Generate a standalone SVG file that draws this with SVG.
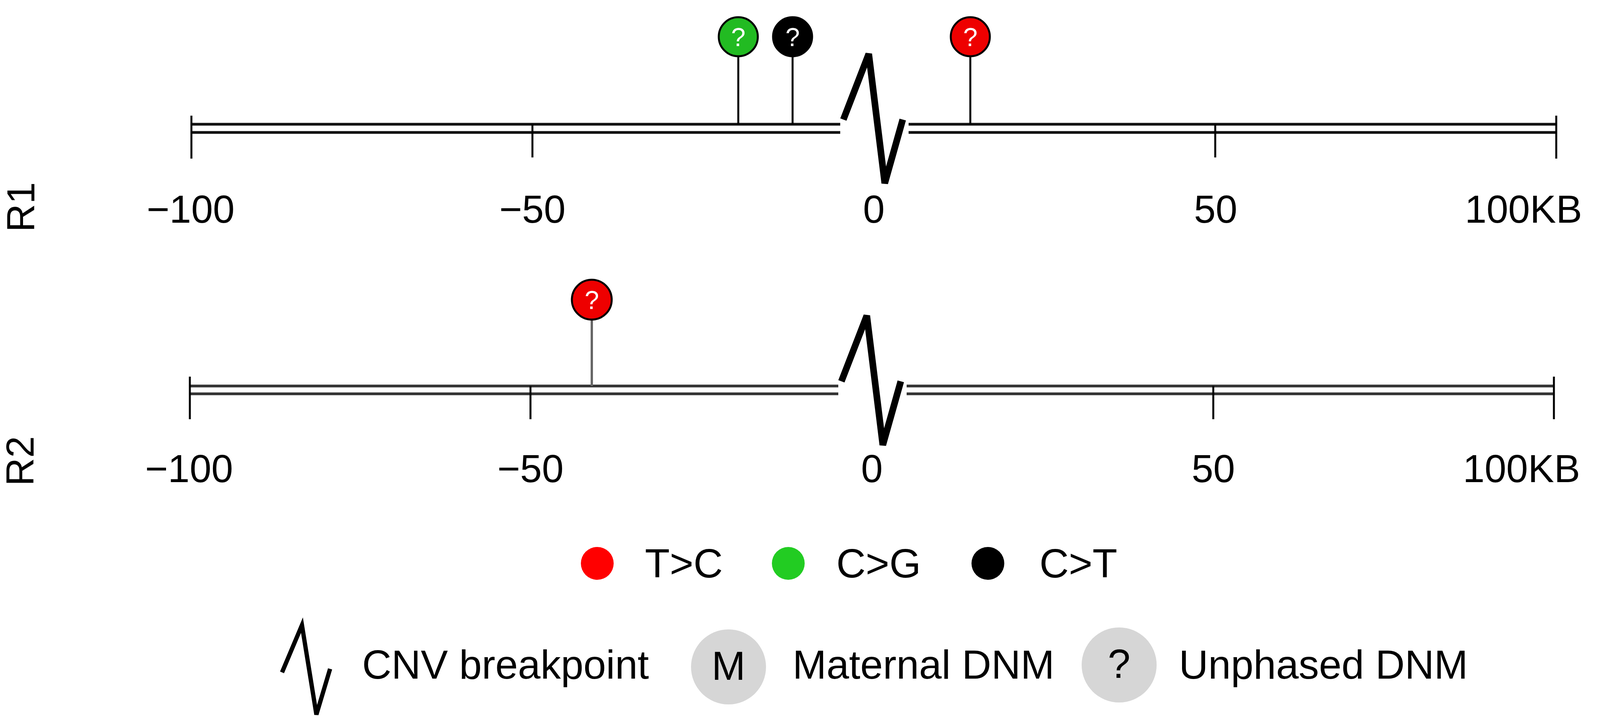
<svg xmlns="http://www.w3.org/2000/svg" width="4228" height="1848" viewBox="0 0 4228 1848">
<style>
text{font-family:"Liberation Sans",Arial,sans-serif;fill:#000}
.tk{font-size:100px;text-anchor:middle}
.lg{font-size:104px}
.ax{stroke:#111;stroke-width:7;fill:none}
.ax2{stroke:#333;stroke-width:7;fill:none}
.tick{stroke:#000;stroke-width:5}
.zz{stroke:#000;stroke-width:17;fill:none;stroke-linejoin:miter}
.stem{stroke:#000;stroke-width:5}
.pin{stroke:#000;stroke-width:5}
.q{font-size:66px;fill:#fff;text-anchor:middle}
</style>
<rect width="4228" height="1848" fill="#fff"/>
<g id="row-R1">
<text class="tk" transform="translate(88,530) rotate(-90)">R1</text>
<path class="ax" d="M488,318H2151M488,339H2151M2326,318H3986M2326,339H3986"/>
<path class="tick" d="M490,296V406M1363,318V403M3111,318V403M3984,296V406"/>
<polyline class="zz" points="2159,306 2224,138 2265,469 2311,306"/>
<text class="tk" x="488" y="570">−100</text>
<text class="tk" x="1363" y="570">−50</text>
<text class="tk" x="2237" y="570">0</text>
<text class="tk" x="3112" y="570">50</text>
<text class="tk" x="3900" y="570" text-anchor="start">100KB</text>
</g>
<g id="pin-R1-green"><line class="stem" x1="1890" y1="144" x2="1890" y2="318"/><circle class="pin" cx="1890" cy="94" r="50" fill="#22bb22"/><text class="q" x="1890" y="118">?</text></g>
<g id="pin-R1-black"><line class="stem" x1="2029" y1="144" x2="2029" y2="318"/><circle class="pin" cx="2029" cy="94" r="50" fill="#000"/><text class="q" x="2029" y="118">?</text></g>
<g id="pin-R1-red"><line class="stem" x1="2484" y1="144" x2="2484" y2="318"/><circle class="pin" cx="2484" cy="94" r="50" fill="#ee0000"/><text class="q" x="2484" y="118">?</text></g>
<g id="row-R2">
<text class="tk" transform="translate(86,1180) rotate(-90)">R2</text>
<path class="ax2" d="M484,988H2146M484,1008H2146M2321,988H3980M2321,1008H3980"/>
<path class="tick" d="M486,964V1073M1358,988V1073M3106,988V1073M3978,964V1073"/>
<polyline class="zz" points="2154,976 2219,808 2260,1139 2306,976"/>
<text class="tk" x="484" y="1234">−100</text>
<text class="tk" x="1358" y="1234">−50</text>
<text class="tk" x="2232" y="1234">0</text>
<text class="tk" x="3106" y="1234">50</text>
<text class="tk" x="3895" y="1234" text-anchor="start">100KB</text>
</g>
<g id="pin-R2-red"><line x1="1515" y1="818" x2="1515" y2="988" stroke="#666" stroke-width="6"/><circle class="pin" cx="1515" cy="767" r="51" fill="#ee0000" stroke="#900"/><text class="q" x="1515" y="791">?</text></g>
<g id="legend-colors">
<circle cx="1529" cy="1442" r="42" fill="#ff0000"/><text class="lg" x="1651" y="1478">T&gt;C</text>
<circle cx="2018" cy="1442" r="42" fill="#22cc22"/><text class="lg" x="2141" y="1478">C&gt;G</text>
<circle cx="2529" cy="1442" r="42" fill="#000"/><text class="lg" x="2661" y="1478">C&gt;T</text>
</g>
<g id="legend-symbols">
<polyline points="722,1721 773,1600 810,1829 845,1712" fill="none" stroke="#000" stroke-width="11"/>
<text class="lg" x="927" y="1737">CNV breakpoint</text>
<circle cx="1865" cy="1707" r="96" fill="#d6d6d6"/><text class="lg" x="1865" y="1740" text-anchor="middle">M</text>
<text class="lg" x="2029" y="1737">Maternal DNM</text>
<circle cx="2865" cy="1702" r="96" fill="#d6d6d6"/><text class="lg" x="2865" y="1735" text-anchor="middle">?</text>
<text class="lg" x="3018" y="1737">Unphased DNM</text>
</g>
<g id="connectors"/>
</svg>
